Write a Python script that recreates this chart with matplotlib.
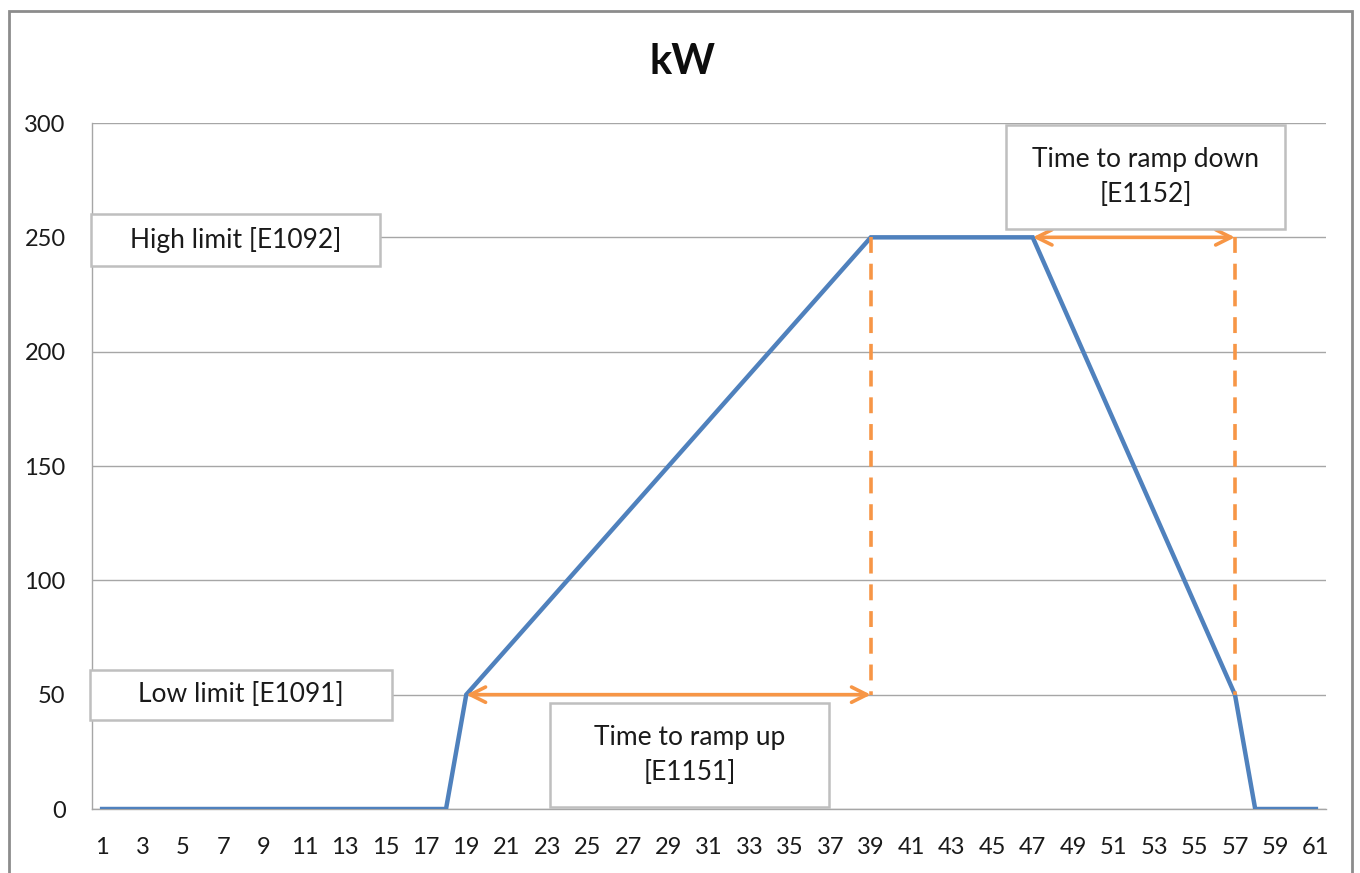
import matplotlib
matplotlib.use("Agg")
import matplotlib.pyplot as plt
from matplotlib.patches import Rectangle

plt.rcParams['font.family'] = ['Lato', 'DejaVu Sans']

# power profile, one value per time step
steps = list(range(1, 62))
kw = ([0] * 18
      + [50, 60, 70, 80, 90, 100, 110, 120, 130, 140, 150,
         160, 170, 180, 190, 200, 210, 220, 230, 240, 250]
      + [250] * 8
      + [230, 210, 190, 170, 150, 130, 110, 90, 70, 50]
      + [0] * 4)
low_limit = 50
high_limit = 250
ramp_up = (19, 39)
ramp_down = (47, 57)
yticks = [0, 50, 100, 150, 200, 250, 300]
xtick_labels = [str(s) for s in steps[::2]]

blue = '#4F81BD'
orange = '#F79646'
grid = '#A6A6A6'

W, H = 1360, 873
fig = plt.figure(figsize=(W / 100, H / 100), dpi=100)


def fx(px):
    return px / W


def fy(py):
    return 1 - py / H


ax = fig.add_axes([fx(92), fy(809), fx(1326) - fx(92), fy(123) - fy(809)])

ax.plot(steps, kw, color=blue, lw=3.2, solid_joinstyle='miter', zorder=3)

ax.set_xlim(0.5, 61.5)
ax.set_ylim(0, 300)
ax.set_yticks(yticks)
ax.set_xticks(steps[::2])
ax.set_xticklabels(xtick_labels)
ax.tick_params(length=0, labelsize=17, colors='#1a1a1a')
ax.tick_params(axis='y', pad=19)
ax.tick_params(axis='x', pad=20)
ax.grid(axis='y', color=grid, lw=1)
ax.set_axisbelow(True)
for side in ['top', 'right']:
    ax.spines[side].set_visible(False)
for side in ['left', 'bottom']:
    ax.spines[side].set_color(grid)
    ax.spines[side].set_linewidth(1)

# ramp markers
arrow = dict(arrowstyle='<->,head_length=1.1,head_width=0.55', color=orange,
             lw=2.6, shrinkA=0, shrinkB=0)
ax.annotate('', xy=(ramp_up[1], low_limit), xytext=(ramp_up[0], low_limit),
            arrowprops=arrow, zorder=4)
ax.annotate('', xy=(ramp_down[1], high_limit), xytext=(ramp_down[0], high_limit),
            arrowprops=arrow, zorder=4)
ax.plot([ramp_up[1], ramp_up[1]], [high_limit, low_limit], color=orange,
        lw=2.6, dashes=(4.4, 3), zorder=4)
ax.plot([ramp_down[1], ramp_down[1]], [high_limit, low_limit], color=orange,
        lw=2.6, dashes=(4.4, 3), zorder=4)


def label_box(x0, y0, x1, y1, text):
    fig.patches.append(Rectangle((fx(x0), fy(y1)), fx(x1) - fx(x0),
                                 fy(y0) - fy(y1), transform=fig.transFigure,
                                 facecolor='white', edgecolor='#BFBFBF',
                                 lw=1.8, zorder=5))
    fig.text(fx((x0 + x1) / 2), fy((y0 + y1) / 2), text, ha='center',
             va='center', fontsize=19, color='#1a1a1a', linespacing=1.5,
             zorder=6)


label_box(91, 214, 380, 266, 'High limit [E1092]')
label_box(90, 670, 392, 720, 'Low limit [E1091]')
label_box(550, 703, 829, 807, 'Time to ramp up\n[E1151]')
label_box(1006, 125, 1285, 229, 'Time to ramp down\n[E1152]')

fig.text(fx(683), fy(62), 'kW', ha='center', va='center', fontsize=30,
         fontweight='bold', color='#0d0d0d')

# chart frame
fig.patches.append(Rectangle((fx(9), -0.01), fx(1352) - fx(9), fy(11) + 0.01,
                             transform=fig.transFigure, fill=False,
                             edgecolor='#8C8C8C', lw=2))

fig.savefig('out.png', dpi=100)
